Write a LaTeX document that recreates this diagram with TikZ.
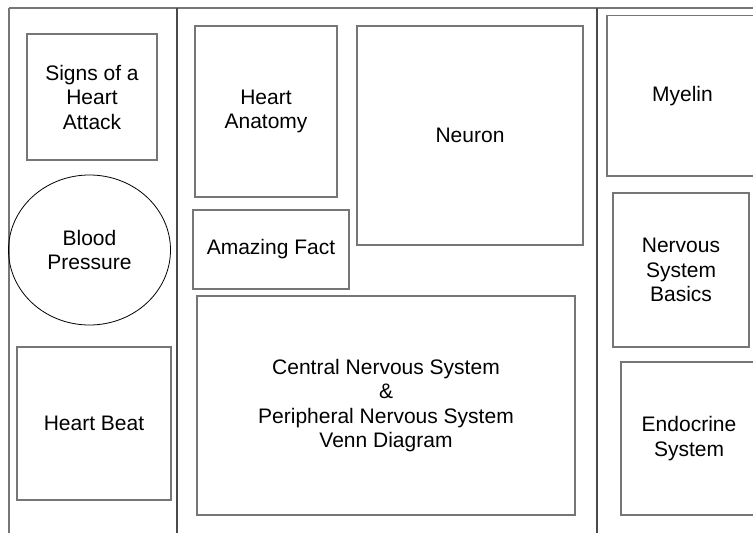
\documentclass[tikz,border=0pt]{standalone}
\usepackage{fontspec}
\setmainfont{Liberation Sans}
\usetikzlibrary{shapes.geometric}
\definecolor{boxgray}{HTML}{767676}
\definecolor{divgray}{HTML}{4A4A4A}
\tikzset{
  panel/.style={draw=boxgray, line width=1.5bp, rectangle, inner sep=0pt, outer sep=0pt,
    align=center, font=\fontsize{21bp}{24.5bp}\selectfont, text=black},
  oval/.style={draw=black, line width=0.8bp, ellipse, inner sep=0pt, outer sep=0pt,
    align=center, font=\fontsize{21bp}{24.5bp}\selectfont, text=black},
  frameline/.style={draw=boxgray, line width=1.5bp},
  divline/.style={draw=divgray, line width=1.1bp}
}
\begin{document}
\begin{tikzpicture}[x=1bp, y=-1bp]
\useasboundingbox (0,0) rectangle (753,533);
\clip (0,0) rectangle (753,533);
\fill[white] (0,0) rectangle (753,533);
% frame lines
\draw[frameline] (9,8) -- (760,8);
\draw[frameline] (9,8) -- (9,540);
\draw[divline] (177,8) -- (177,540);
\draw[divline] (597,8) -- (597,540);
% left column
\node[panel, minimum width=130bp, minimum height=126bp] (signs) at (92,97) {Signs of a\\Heart\\Attack};
\node[oval, minimum width=162bp, minimum height=150bp] (blood) at (89.5,250) {Blood\\Pressure};
\node[panel, minimum width=154bp, minimum height=153bp] (beat) at (94,423.5) {Heart Beat};
% middle column
\node[panel, minimum width=142bp, minimum height=171bp] (anat) at (266,111.5) {Heart\\Anatomy};
\node[panel, minimum width=226bp, minimum height=219bp] (neuron) at (470,135.5) {Neuron};
\node[panel, minimum width=156bp, minimum height=79bp] (fact) at (271,249.5) {Amazing Fact};
\node[panel, minimum width=378bp, minimum height=219bp] (cns) at (386,405.5) {Central Nervous System\\\&\\Peripheral Nervous System\\Venn Diagram};
% right column
\node[panel, minimum width=151bp, minimum height=160.5bp] (myelin) at (682.5,95.75) {Myelin};
\node[panel, minimum width=136bp, minimum height=154bp] (nsb) at (681,270) {Nervous\\System\\Basics};
\node[panel, minimum width=136bp, minimum height=153bp] (endo) at (689,438.5) {Endocrine\\System};
\end{tikzpicture}
\end{document}
